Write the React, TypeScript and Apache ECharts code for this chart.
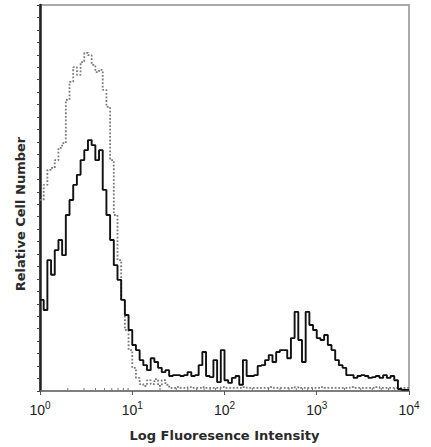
import React, { useEffect, useRef } from "react";
import * as echarts from "echarts";

// Histogram channels: log10 step between successive bins (bin left edges start at 10^0)
const BIN_LOG_STEP = 0.04;

// Sample (solid black) – relative cell number, 0..100 scale
const sampleCounts = [
  23.6, 21.0, 33.9, 30.1, 36.5, 39.1, 35.2, 45.6, 49.5, 53.4,
  56.0, 59.8, 62.4, 65.0, 63.7, 59.8, 62.4, 52.1, 45.6, 39.1,
  32.6, 28.8, 23.6, 19.7, 15.8, 11.9, 10.6, 8.0, 6.7, 5.4,
  8.5, 7.5, 6.0, 4.9, 5.4, 3.9, 4.1, 4.1, 3.9, 4.1,
  4.9, 3.9, 4.1, 6.7, 10.1, 3.9, 3.6, 8.0, 2.3, 10.6,
  2.8, 2.1, 3.4, 3.9, 1.6, 8.0, 3.9, 3.9, 4.1, 6.5,
  6.7, 8.0, 9.3, 7.5, 10.1, 10.6, 10.6, 8.5, 13.7, 20.5,
  13.2, 7.5, 20.5, 17.1, 15.8, 13.7, 13.2, 14.5, 11.9, 10.6,
  8.0, 6.7, 6.0, 4.1, 4.1, 3.4, 3.9, 4.1, 3.9, 3.4,
  3.6, 3.9, 3.4, 4.1, 3.4, 3.9, 2.8, 0.5, 0.3, 0.3,
];

// Isotype control (dotted grey)
const controlCounts = [
  49.5, 53.4, 57.3, 57.8, 59.8, 63.0, 64.2, 75.4, 80.1, 83.9,
  81.9, 85.2, 87.6, 87.0, 84.5, 82.6, 83.2, 78.0, 73.6, 59.8,
  45.6, 33.9, 23.6, 15.8, 10.6, 6.0, 3.4, 1.8, 1.3, 2.8,
  1.8, 3.1, 1.3, 2.8, 1.6, 0.8, 0.8, 1.0, 0.8, 0.8,
  1.0, 0.8, 0.8, 0.8, 1.0, 0.8, 0.8, 0.8, 0.8, 1.0,
  0.8, 0.8, 0.8, 0.8, 0.8, 1.0, 0.8, 0.8, 0.8, 0.8,
  0.8, 0.8, 1.0, 0.8, 0.8, 0.8, 0.8, 0.8, 0.8, 1.0,
  0.8, 0.8, 0.8, 0.8, 0.8, 0.8, 1.0, 0.8, 0.8, 0.8,
  0.8, 0.8, 0.8, 0.8, 1.0, 0.8, 0.8, 0.8, 0.8, 0.8,
  0.8, 1.0, 0.8, 0.8, 0.8, 0.8, 0.8, 0.8, 0.8, 0.8,
];

const xDecades = [1, 10, 100, 1000, 10000];
const minorMultipliers = [2, 3, 4, 5, 6, 7, 8, 9];

const xTitle = "Log Fluoresence Intensity";
const yTitle = "Relative Cell Number";

const FONT = "'Liberation Sans', Arial, sans-serif";
const TITLE_FONT = "'DejaVu Sans', Verdana, sans-serif";

export default function App() {
  const ref = useRef<HTMLDivElement>(null);

  useEffect(() => {
    if (!ref.current) return;
    const chart = echarts.init(ref.current, undefined, { renderer: "svg" });

    const toPairs = (arr: number[]) =>
      arr.map((v, i) => [Math.pow(10, i * BIN_LOG_STEP), v]);
    const sampleData = toPairs(sampleCounts);
    sampleData.push([10000, sampleCounts[sampleCounts.length - 1]]);
    const controlData = toPairs(controlCounts);
    controlData.push([10000, controlCounts[controlCounts.length - 1]]);

    const minorTicks: number[][] = [];
    xDecades.slice(0, -1).forEach((d) =>
      minorMultipliers.forEach((m) => minorTicks.push([d * m, 0]))
    );

    chart.setOption({
      animation: false,
      backgroundColor: "#ffffff",
      grid: {
        left: 40,
        top: 5,
        width: 369,
        height: 386,
        show: true,
        borderColor: "#aaaaaa",
        borderWidth: 2,
      },
      graphic: [
        {
          type: "text",
          x: 20,
          y: 214,
          rotation: Math.PI / 2,
          style: {
            text: yTitle,
            fontFamily: TITLE_FONT,
            fontSize: 13,
            fontWeight: "bold",
            fill: "#2a2a2a",
            align: "center",
            verticalAlign: "middle",
          },
        },
      ],
      xAxis: {
        type: "log",
        logBase: 10,
        min: 1,
        max: 10000,
        name: xTitle,
        nameLocation: "middle",
        nameGap: 38,
        nameTextStyle: {
          fontFamily: TITLE_FONT,
          fontSize: 13,
          fontWeight: "bold",
          color: "#2a2a2a",
        },
        axisLine: { show: true, lineStyle: { color: "#707070", width: 1.5 } },
        axisTick: { show: true, length: 4, lineStyle: { color: "#555" } },
        splitLine: { show: false },
        minorTick: { show: false },
        axisLabel: {
          margin: 9,
          fontFamily: FONT,
          color: "#222",
          formatter: (v: number) => {
            const e = Math.round(Math.log10(v));
            return `{b|10}{s|${e}}`;
          },
          rich: {
            b: { fontSize: 14, fontFamily: FONT, color: "#222" },
            s: {
              fontSize: 10,
              fontFamily: FONT,
              color: "#222",
              verticalAlign: "bottom",
              padding: [0, 0, 9, 0],
            },
          },
        },
      },
      yAxis: {
        type: "value",
        min: 0,
        max: 100,
        interval: 100 / 31,
        axisLine: { show: true, lineStyle: { color: "#222", width: 2.5 } },
        axisTick: { show: true, length: 3, lineStyle: { color: "#444" } },
        axisLabel: { show: false },
        splitLine: { show: false },
      },
      series: [
        {
          type: "custom",
          silent: true,
          data: minorTicks,
          renderItem: (params: any, api: any) => {
            const p = api.coord([api.value(0), 0]);
            return {
              type: "line",
              shape: { x1: p[0], y1: p[1], x2: p[0], y2: p[1] - 3 },
              style: { stroke: "#777", lineWidth: 1 },
            };
          },
          z: 1,
        },
        {
          type: "line",
          step: "end",
          data: controlData,
          showSymbol: false,
          lineStyle: { color: "#7a7a7a", width: 1.8, type: "dotted" },
          z: 2,
        },
        {
          type: "line",
          step: "end",
          data: sampleData,
          showSymbol: false,
          lineStyle: { color: "#111", width: 1.9 },
          z: 3,
        },
      ],
    });

    return () => chart.dispose();
  }, []);

  return (
    <div
      ref={ref}
      style={{ position: "absolute", left: 0, top: 0, width: 431, height: 447 }}
    />
  );
}
